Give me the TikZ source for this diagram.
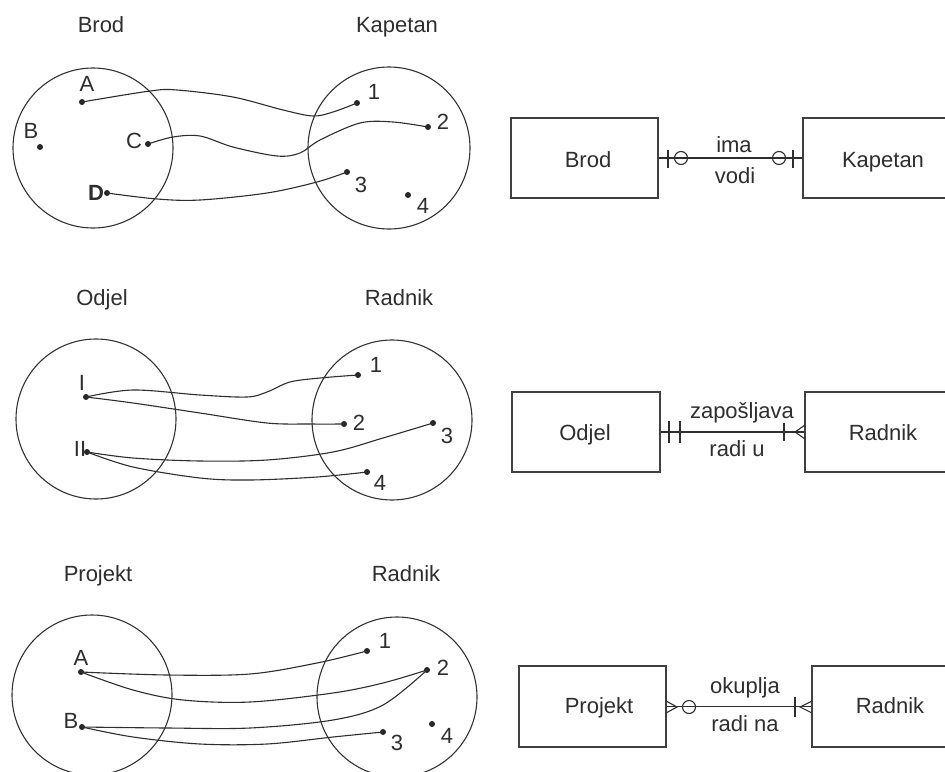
\documentclass[tikz,border=0pt]{standalone}
\usepackage{fontspec}
\setmainfont{Liberation Sans}
\begin{document}
\begin{tikzpicture}[x=1pt,y=-1pt,
  lbl/.style={anchor=base,inner sep=0pt,text=black!82,font=\fontsize{22}{26}\selectfont},
  dot/.style={circle,fill=black!85,inner sep=0pt,minimum size=6pt},
  conn/.style={draw=black!82,line width=1.1pt},
  setc/.style={draw=black!80,line width=1.1pt},
  ent/.style={draw=black!75,line width=1.1pt},
  ermark/.style={draw=black!82,line width=1.1pt}]
\useasboundingbox (0,0) rectangle (945,771);
\clip (0,0) rectangle (945,771);
\fill[white] (0,0) rectangle (945,771);

% ================= TOP =================
\node[lbl] (tBrodT) at (101,32) {Brod};
\node[lbl] (tKapT) at (397,32) {Kapetan};
\draw[setc] (93,148) circle[radius=80];
\draw[setc] (389,148) circle[radius=81];
\node[dot] (tA) at (82,102) {};
\node[dot] (tB) at (40,147) {};
\node[dot] (tC) at (148,144) {};
\node[dot] (tD) at (107,193) {};
\node[dot] (t1) at (357,103) {};
\node[dot] (t2) at (428,127) {};
\node[dot] (t3) at (347,172) {};
\node[dot] (t4) at (408,195) {};
\node[lbl] (ltA) at (87,91) {A};
\node[lbl] (ltB) at (31,138) {B};
\node[lbl] (ltC) at (134,148) {C};
\node[lbl,font=\fontsize{22}{26}\selectfont\bfseries] (ltD) at (96,200) {D};
\node[lbl] (lt1) at (374,99) {1};
\node[lbl] (lt2) at (443,129) {2};
\node[lbl] (lt3) at (361,192) {3};
\node[lbl] (lt4) at (423,213) {4};
\draw[conn] plot[smooth,tension=0.55] coordinates {(tA.center) (150,91) (177,90) (233,97) (283,110) (313,116) (333,112) (t1.center)};
\draw[conn] plot[smooth,tension=0.55] coordinates {(tC.center) (173,137) (200,136) (233,147) (277,156) (300,153) (320,140) (360,123) (393,122) (t2.center)};
\draw[conn] plot[smooth,tension=0.55] coordinates {(tD.center) (157,199) (200,200) (267,193) (317,182) (t3.center)};

% top ER
\node[ent,minimum width=147pt,minimum height=80pt,inner sep=0pt] (eBrod) at (584.5,158) {};
\node[ent,minimum width=160pt,minimum height=80pt,inner sep=0pt] (eKap) at (883,158) {};
\node[lbl] (eBrodT) at (588,167) {Brod};
\node[lbl] (eKapT) at (883,167) {Kapetan};
\draw[ermark] (eBrod.east) -- (eKap.west);
\draw[ermark] (668,150) -- (668,168);
\draw[ermark] (681,158) circle[radius=6.5];
\draw[ermark] (779,158) circle[radius=6.5];
\draw[ermark] (793,150) -- (793,168);
\node[lbl] (rIma) at (734,152) {ima};
\node[lbl] (rVodi) at (735,183) {vodi};

% ================= MIDDLE =================
\node[lbl] (mOdT) at (102,305) {Odjel};
\node[lbl] (mRaT) at (399,305) {Radnik};
\draw[setc] (96,419) circle[radius=80];
\draw[setc] (392,420) circle[radius=80];
\node[dot] (mI) at (86,397) {};
\node[dot] (mII) at (87,452) {};
\node[dot] (m1) at (358,375) {};
\node[dot] (m2) at (344,424) {};
\node[dot] (m3) at (433,423) {};
\node[dot] (m4) at (367,472) {};
\node[lbl] (lmI) at (82,390) {I};
\node[lbl] (lmII) at (80,456) {II};
\node[lbl] (lm1) at (376,372) {1};
\node[lbl] (lm2) at (359,430) {2};
\node[lbl] (lm3) at (447,443) {3};
\node[lbl] (lm4) at (380,490) {4};
\draw[conn] plot[smooth,tension=0.55] coordinates {(mI.center) (133,390) (200,395) (247,397) (267,392) (290,382) (320,378) (m1.center)};
\draw[conn] plot[smooth,tension=0.55] coordinates {(mI.center) (133,403) (200,413) (267,423) (310,424) (m2.center)};
\draw[conn] plot[smooth,tension=0.55] coordinates {(mII.center) (133,458) (200,461) (267,460) (333,452) (383,438) (m3.center)};
\draw[conn] plot[smooth,tension=0.55] coordinates {(mII.center) (133,467) (200,478) (250,480) (317,477) (m4.center)};

% middle ER
\node[ent,minimum width=148pt,minimum height=80pt,inner sep=0pt] (eOdj) at (586,432) {};
\node[ent,minimum width=160pt,minimum height=80pt,inner sep=0pt] (eRad1) at (885,432) {};
\node[lbl] (eOdjT) at (585,440) {Odjel};
\node[lbl] (eRad1T) at (883,440) {Radnik};
\draw[ermark] (eOdj.east) -- (eRad1.west);
\draw[ermark] (669,421) -- (669,443);
\draw[ermark] (680,421) -- (680,443);
\draw[ermark] (784,423) -- (784,441);
\draw[ermark] (805,425) -- (795,432) -- (805,439);
\node[lbl] (rZap) at (742,418) {zapošljava};
\node[lbl] (rRadiu) at (737,456) {radi u};

% ================= BOTTOM =================
\node[lbl] (bPrT) at (98,581) {Projekt};
\node[lbl] (bRaT) at (406,581) {Radnik};
\draw[setc] (92,695) circle[radius=80];
\draw[setc] (397,697) circle[radius=80];
\node[dot] (bA) at (81,672) {};
\node[dot] (bB) at (82,727) {};
\node[dot] (b1) at (367,651) {};
\node[dot] (b2) at (427,670) {};
\node[dot] (b3) at (383,732) {};
\node[dot] (b4) at (432,724) {};
\node[lbl] (lbA) at (81,665) {A};
\node[lbl] (lbB) at (71,728) {B};
\node[lbl] (lb1) at (385,648) {1};
\node[lbl] (lb2) at (443,675) {2};
\node[lbl] (lb3) at (397,750) {3};
\node[lbl] (lb4) at (447,743) {4};
\draw[conn] plot[smooth,tension=0.55] coordinates {(bA.center) (167,675) (250,674) (317,663) (b1.center)};
\draw[conn] plot[smooth,tension=0.55] coordinates {(bA.center) (133,690) (183,700) (250,702) (333,693) (383,683) (b2.center)};
\draw[conn] plot[smooth,tension=0.55] coordinates {(bB.center) (167,728) (250,728) (333,720) (383,705) (b2.center)};
\draw[conn] plot[smooth,tension=0.55] coordinates {(bB.center) (133,737) (200,744) (267,744) (333,737) (b3.center)};

% bottom ER
\node[ent,minimum width=147pt,minimum height=81pt,inner sep=0pt] (ePro) at (592.5,706.5) {};
\node[ent,minimum width=160pt,minimum height=81pt,inner sep=0pt] (eRad2) at (892,706.5) {};
\node[lbl] (eProT) at (599,713) {Projekt};
\node[lbl] (eRad2T) at (890,713) {Radnik};
\draw[ermark] (ePro.east) -- (eRad2.west);
\draw[ermark] (666,701) -- (677,707) -- (666,713);
\draw[ermark] (689,707) circle[radius=6.5];
\draw[ermark] (795,697) -- (795,717);
\draw[ermark] (812,701) -- (800,707) -- (812,713);
\node[lbl] (rOku) at (745,693) {okuplja};
\node[lbl] (rRadina) at (745,731) {radi na};
\end{tikzpicture}
\end{document}
